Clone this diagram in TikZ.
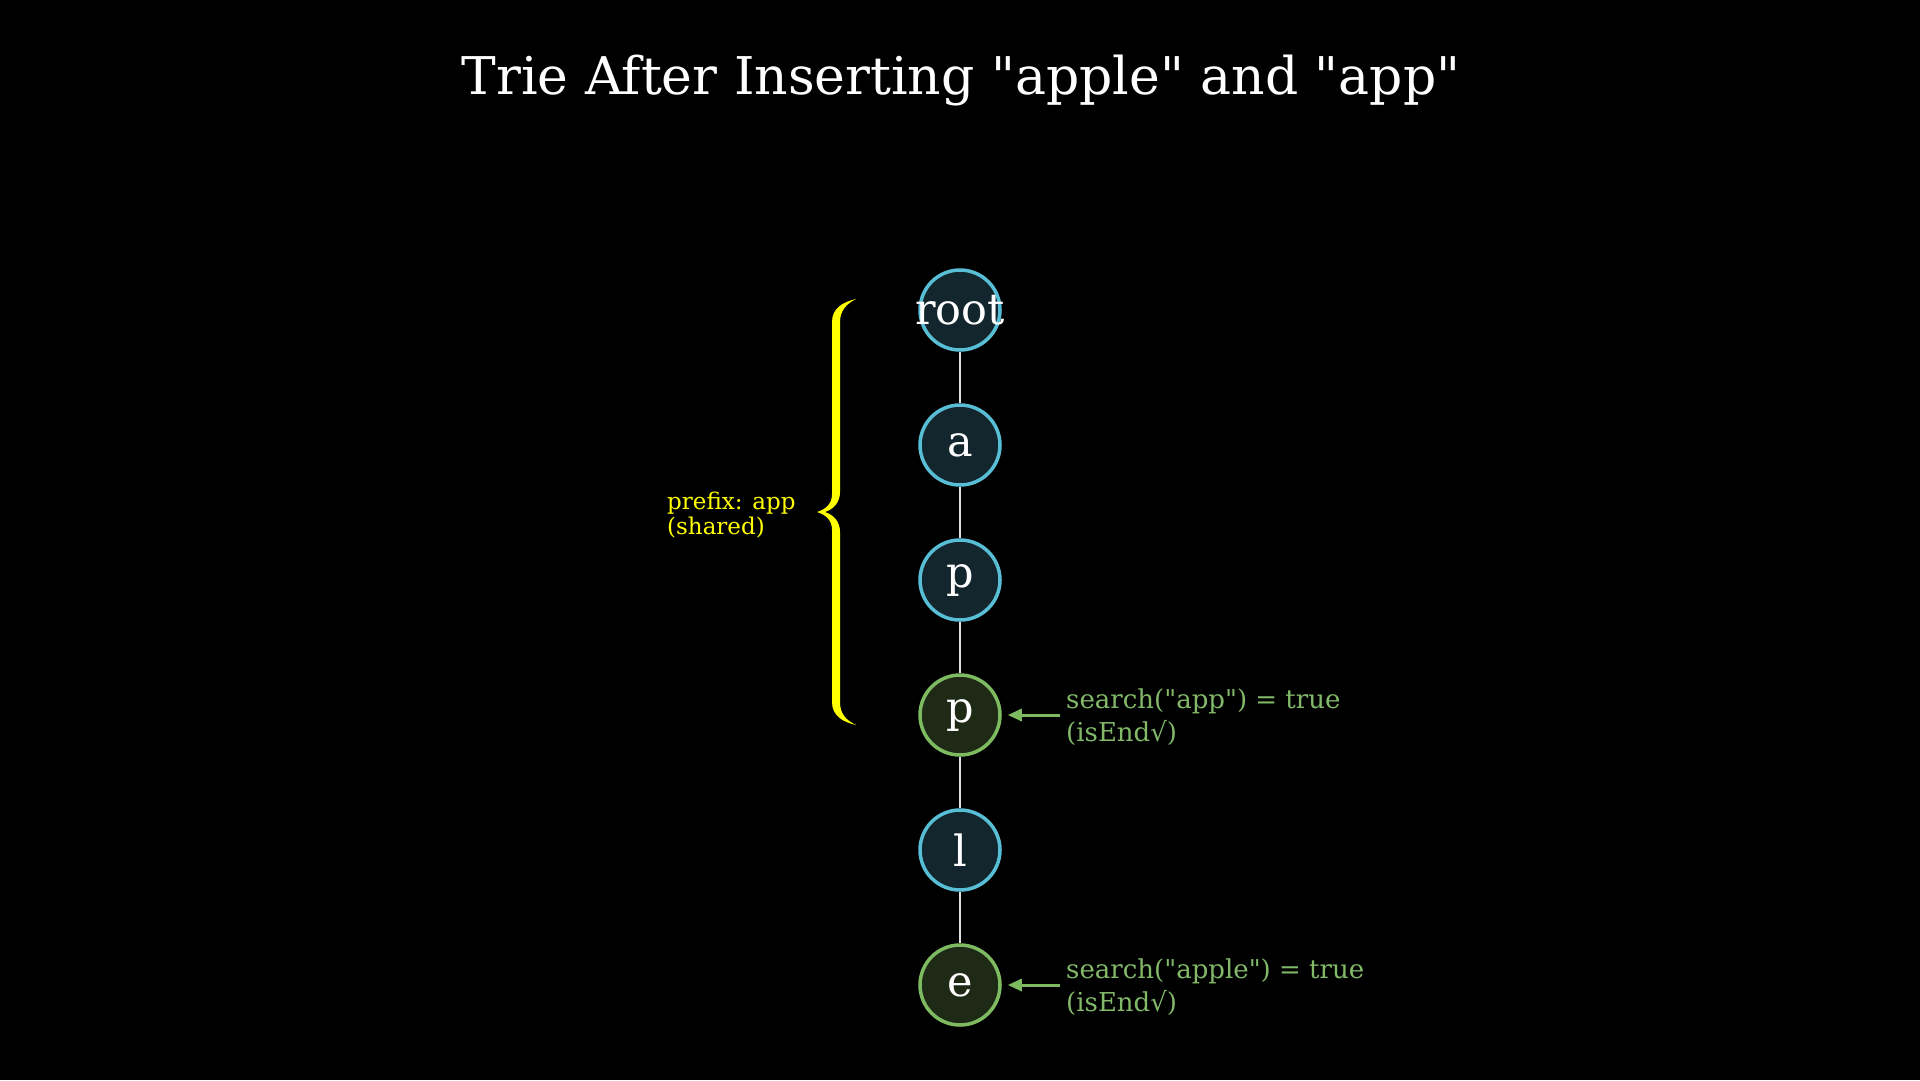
\documentclass[tikz,border=0pt]{standalone}
\usepackage{fontspec}
\newfontfamily\df{DejaVu Serif}
\usetikzlibrary{arrows.meta}
\definecolor{cyanline}{RGB}{88,190,214}
\definecolor{cyanfill}{RGB}{19,38,45}
\definecolor{greenline}{RGB}{126,186,96}
\definecolor{greenfill}{RGB}{30,42,22}
\definecolor{greentext}{RGB}{130,185,105}
\definecolor{braceyellow}{RGB}{255,255,0}
\tikzset{
  trienode/.style={circle, minimum size=80pt, inner sep=0pt, line width=3.5pt, text=white, font=\df\fontsize{43}{46}\selectfont},
  plainnode/.style={trienode, draw=cyanline, fill=cyanfill},
  endnode/.style={trienode, draw=greenline, fill=greenfill},
  edge/.style={draw=white!88!black, line width=2.4pt},
  note/.style={text=greentext, font=\df\fontsize{26}{33}\selectfont, align=left, anchor=north west, inner sep=0pt},
  pointer/.style={draw=greenline, line width=3pt, shorten >=6pt, -{Triangle[length=14pt,width=12pt]}},
}
\begin{document}
\begin{tikzpicture}[x=1pt,y=-1pt]
\fill[black] (0,0) rectangle (1920,1080);
\useasboundingbox (0,0) rectangle (1920,1080);
\node[text=white, font=\df\fontsize{52}{56}\selectfont, anchor=base, inner sep=0pt] (title) at (961,94) {Trie After Inserting "apple" and "app"};
\node[plainnode] (root) at (960,310) {\makebox[0pt]{root}};
\node[plainnode] (a) at (960,445) {a};
\node[plainnode] (p1) at (960,580) {p};
\node[endnode] (p2) at (960,715) {p};
\node[plainnode] (l) at (960,850) {l};
\node[endnode] (e) at (960,985) {e};
\path[edge] (root) -- (a);
\path[edge] (a) -- (p1);
\path[edge] (p1) -- (p2);
\path[edge] (p2) -- (l);
\path[edge] (l) -- (e);
% brace
\coordinate (btop) at (856,299);
\coordinate (bbot) at (856,725);
\coordinate (btip) at (817,512);
\fill[braceyellow]
  (btop) .. controls (843,302) and (832,308) .. (832,322)
  -- (832,494) .. controls (832,504) and (826,509) .. (btip)
  .. controls (826,515) and (832,520) .. (832,530)
  -- (832,702) .. controls (832,716) and (843,722) .. (bbot)
  .. controls (846,720) and (840,714) .. (840,702)
  -- (840,532) .. controls (840,522) and (834,515) .. (825,512)
  .. controls (834,509) and (840,502) .. (840,492)
  -- (840,322) .. controls (840,311) and (846,304) .. (btop) -- cycle;
\node[text=braceyellow, font=\df\fontsize{23}{25}\selectfont, align=left, anchor=north west, inner sep=0pt] (prefix) at (667,491.5) {prefix: app\\(shared)};
% notes
\node[note] (n1) at (1066,689) {search("app") = true\\(isEnd\char"221A)};
\node[note] (n2) at (1066,959) {search("apple") = true\\(isEnd\char"221A)};
\coordinate (t1) at (1060,715);
\coordinate (t2) at (1060,985);
\draw[pointer] (t1) -- (p2.east);
\draw[pointer] (t2) -- (e.east);
\end{tikzpicture}
\end{document}
